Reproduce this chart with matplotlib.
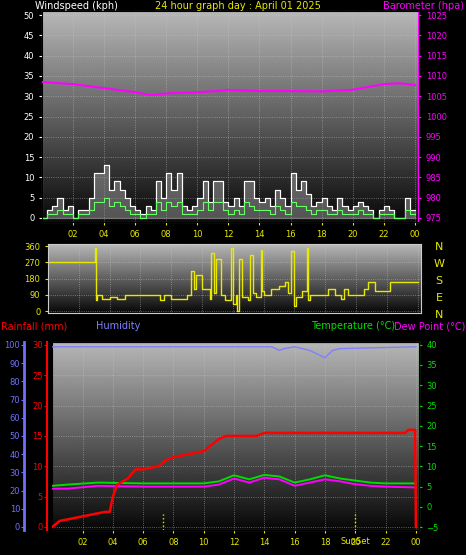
import numpy as np
import matplotlib.pyplot as plt

# Data (hours since midnight)
hours20 = np.arange(0, 24.01, 1 / 3)
gust = [0, 2, 3, 5, 2, 3, 0, 2, 2, 5, 11, 11, 13, 7, 9, 7, 5, 3,
        2, 1, 3, 2, 9, 5, 11, 7, 11, 3, 2, 3, 5, 9, 4, 9, 9, 4,
        3, 5, 3, 9, 9, 5, 4, 5, 3, 7, 5, 3, 11, 7, 9, 6, 3, 4,
        5, 3, 2, 5, 3, 2, 3, 4, 3, 2, 0, 2, 3, 2, 0, 0, 5, 2, 2]
avg = [0, 1, 1, 2, 1, 1, 0, 1, 1, 2, 4, 4, 5, 3, 4, 3, 2, 1,
       1, 0, 1, 1, 4, 2, 4, 3, 4, 1, 1, 1, 2, 4, 2, 4, 4, 2,
       1, 2, 1, 4, 3, 2, 2, 2, 1, 3, 2, 1, 4, 3, 3, 2, 1, 2,
       2, 1, 1, 2, 1, 1, 1, 2, 1, 1, 0, 1, 1, 1, 0, 0, 2, 1, 1]

baro_h = [0, 2, 4, 6, 7, 8, 10, 12, 14, 16, 18, 20, 22, 23, 24]
baro = [1008.5, 1008.0, 1007.0, 1006.0, 1005.3, 1005.7, 1006.0, 1006.5,
        1006.3, 1006.3, 1006.2, 1006.6, 1008.0, 1008.2, 1007.8]

dir_h = [0, 3, 3.05, 3.1, 3.2, 3.5, 4, 4.5, 5, 7, 7.3, 7.5, 8, 9, 9.3, 9.5, 9.6,
         10, 10.5, 10.6, 10.8, 10.9, 11.2, 11.5, 11.9, 12, 12.2, 12.3, 12.4,
         12.6, 13, 13.1, 13.3, 13.5, 13.8, 13.9, 14, 14.5, 15, 15.4, 15.6,
         15.8, 16, 16.1, 16.5, 16.8, 16.9, 17, 18, 18.2, 18.6, 19, 19.2, 19.5,
         20, 20.5, 20.8, 21.2, 22, 22.2, 24]
dir_deg = [270, 270, 350, 60, 90, 70, 80, 70, 90, 90, 60, 90, 70, 90, 220, 120,
           200, 120, 70, 320, 100, 290, 90, 60, 350, 40, 90, 0, 290, 80, 60,
           310, 100, 80, 340, 110, 90, 120, 140, 160, 100, 330, 30, 80, 110,
           350, 60, 90, 90, 120, 90, 70, 120, 90, 90, 120, 160, 110, 110, 160, 160]

rain_h = [0, 0.5, 1.5, 2.5, 3.5, 3.8, 4.0, 4.3, 5.0, 5.5, 6.0, 7.0, 7.5, 8.0,
          9.0, 10.0, 10.5, 11.0, 11.5, 13.5, 14.0, 23.3, 23.5, 23.95, 24.0]
rain = [0, 1, 1.5, 2, 2.5, 2.5, 5, 7, 8, 9.5, 9.5, 10, 11, 11.5, 12, 12.5,
        13.5, 14.5, 15, 15, 15.5, 15.5, 16, 16, 0]
hum_h = [0, 14.5, 15, 15.3, 16, 17, 17.5, 18, 18.5, 19, 24]
hum = [99, 99, 97, 98, 99, 97, 95, 93, 97, 98, 99]
temp_h = [0, 1, 3, 6, 10, 11, 12, 13, 14, 15, 16, 17, 18, 19, 20, 21, 22, 24]
temp = [5.2, 5.5, 6.0, 5.8, 5.8, 6.3, 7.8, 6.8, 7.9, 7.5, 6.0, 6.8, 7.8, 7.0, 6.5, 6.0, 5.8, 5.8]
dew = [4.5, 4.5, 5.2, 5.0, 5.0, 5.5, 7.0, 6.0, 7.2, 6.8, 5.2, 6.0, 6.8, 6.3, 5.6, 5.2, 5.0, 4.8]
sun_h = [7.3, 20.0]

hour_ticks = list(range(2, 25, 2))
hour_labels = ['%02d' % (h % 24) for h in hour_ticks]

YEL = '#e8e800'
MAG = '#ff00ff'
FS = 6


def gradient(ax):
    g = np.linspace(0.72, 0.03, 256).reshape(-1, 1)
    ax.imshow(g, cmap='gray', vmin=0, vmax=1, aspect='auto',
              extent=[0, 1, 0, 1], transform=ax.transAxes, zorder=0)
    ax.grid(True, color='#c8c8c8', ls=':', lw=0.6, alpha=0.6)
    for s in ax.spines.values():
        s.set_color('#cccccc')


fig = plt.figure(figsize=(4.66, 5.55), dpi=100, facecolor='black')

# --- windspeed / barometer
ax1 = fig.add_axes([0.090, 0.600, 0.807, 0.380])
gradient(ax1)
ax1.fill_between(hours20, gust, step='post', color='#a0a0a0', alpha=0.5, zorder=2)
ax1.step(hours20, gust, where='post', color='white', lw=0.8, zorder=3)
ax1.step(hours20, avg, where='post', color='#66ff66', lw=0.8, zorder=4)
ax1.set_xlim(0, 24.2)
ax1.set_ylim(-1, 51)
ax1.set_yticks(range(0, 51, 5))
ax1.set_xticks(hour_ticks, hour_labels)
ax1.tick_params(colors='white', labelsize=FS, length=2)
ax1.tick_params(axis='x', colors=YEL)
ax1b = ax1.twinx()
ax1b.plot(baro_h, baro, color=MAG, lw=1.5, zorder=5)
ax1b.set_ylim(974, 1026)
ax1b.set_yticks(range(975, 1026, 5))
ax1b.tick_params(colors=MAG, labelsize=FS, length=2)
ax1b.spines['right'].set_color(MAG)
fig.text(0.075, 0.990, 'Windspeed (kph)', color='white', fontsize=7, va='center')
fig.text(0.51, 0.990, '24 hour graph day : April 01 2025', color=YEL, fontsize=7,
         ha='center', va='center')
fig.text(0.995, 0.990, 'Barometer (hpa)', color=MAG, fontsize=7, ha='right', va='center')

# --- wind direction
ax2 = fig.add_axes([0.103, 0.436, 0.800, 0.124])
gradient(ax2)
ax2.step(dir_h, dir_deg, where='post', color=YEL, lw=1)
ax2.set_xlim(0, 24.2)
ax2.set_ylim(-10, 370)
ax2.set_yticks([0, 90, 180, 270, 360])
ax2.set_xticks(hour_ticks, [])
ax2.tick_params(colors=YEL, labelsize=FS, length=2)
ax2.tick_params(axis='x', length=0)
for i, c in enumerate(['N', 'W', 'S', 'E', 'N']):
    fig.text(0.942, 0.555 - i * 0.0305, c, color=YEL, fontsize=8, ha='center', va='center')

# --- rainfall / humidity / temperature
ax3 = fig.add_axes([0.112, 0.045, 0.787, 0.339])
gradient(ax3)
ax3.set_xlim(0, 24.2)
ax3.set_ylim(-0.5, 30.5)
ax3.set_yticks(range(0, 31, 5))
ax3.set_xticks(hour_ticks, hour_labels)
ax3.tick_params(axis='x', colors=YEL, labelsize=FS, length=2)
ax3.tick_params(axis='y', colors='red', labelsize=FS, length=2, pad=1)
ax3.spines['left'].set_color('red')
ax3.spines['left'].set_position(('outward', 4))
ax3.spines['left'].set_linewidth(1.5)
for s in sun_h:
    ax3.plot([s, s], [-0.5, 2.2], color=YEL, ls=':', lw=1, zorder=3)
ax3.text(20, -2.4, 'SunSet', color=YEL, fontsize=FS, ha='center', va='center')

ax3h = ax3.twinx()
ax3h.yaxis.set_ticks_position('left')
ax3h.yaxis.set_label_position('left')
ax3h.spines['left'].set_position(('outward', 20))
ax3h.spines['left'].set_color('#7070ff')
ax3h.spines['left'].set_linewidth(2)
ax3h.set_ylim(-1.7, 101.7)
ax3h.set_yticks(range(0, 101, 10))
ax3h.tick_params(colors='#7070ff', labelsize=FS, length=2, pad=1)
ax3h.plot(hum_h, hum, color='#8080ff', lw=1)

ax3t = ax3.twinx()
ax3t.set_ylim(-5.7, 40.7)
ax3t.set_yticks(range(-5, 41, 5))
ax3t.tick_params(colors='#00e000', labelsize=FS, length=2)
ax3t.spines['right'].set_color('#00e000')
ax3t.plot(temp_h, temp, color='#00dd00', lw=1.4, zorder=4)
ax3t.plot(temp_h, dew, color=MAG, lw=1.4, zorder=3)
ax3t.set_zorder(ax3.get_zorder() + 1)
ax3h.set_zorder(ax3.get_zorder() + 2)
ax3t.patch.set_visible(False)
ax3h.patch.set_visible(False)
# rain drawn on the top-most axes, using the rainfall scale
ax3h.plot(rain_h, rain, color='red', lw=1.8, transform=ax3.transData, zorder=6)

fig.text(0.003, 0.412, 'Rainfall (mm)', color='red', fontsize=7, va='center')
fig.text(0.205, 0.412, 'Humidity', color='#8080ff', fontsize=7, va='center')
fig.text(0.668, 0.412, 'Temperature (\u00b0C)', color='#00e000', fontsize=7, va='center')
fig.text(0.998, 0.412, 'Dew Point (\u00b0C)', color=MAG, fontsize=7, ha='right', va='center')

fig.savefig('out.png', dpi=100, facecolor='black')
